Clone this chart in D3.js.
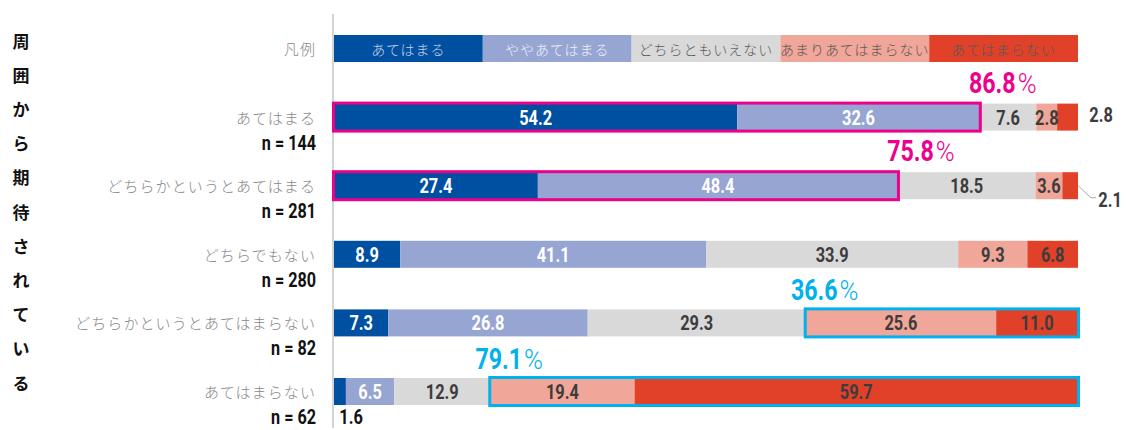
<!DOCTYPE html>
<html><head><meta charset="utf-8">
<script src="https://cdn.jsdelivr.net/npm/d3@7"></script>
<style>body{margin:0;background:#fff;} svg{display:block;}</style>
</head><body>
<svg id="chart" width="1126" height="430"></svg>
<script>
// ---- data ----
const categories = ["あてはまる","どちらかというとあてはまる","どちらでもない","どちらかというとあてはまらない","あてはまらない"];
const sampleSizes = ["n = 144","n = 281","n = 280","n = 82","n = 62"];
const seriesNames = ["あてはまる","ややあてはまる","どちらともいえない","あまりあてはまらない","あてはまらない"];
const applies        = [54.2, 27.4, 8.9, 7.3, 1.6];
const somewhat       = [32.6, 48.4, 41.1, 26.8, 6.5];
const neither        = [7.6, 18.5, 33.9, 29.3, 12.9];
const notReally      = [2.8, 3.6, 9.3, 25.6, 19.4];
const notAtAll       = [2.8, 2.1, 6.8, 11.0, 59.7];
const legendLabel = "凡例";
const axisTitle = "周囲から期待されている";
// highlighted groups
const positiveRows = [0, 1];   // first two series boxed
const negativeRows = [3, 4];   // last two series boxed

const seriesValues = [applies, somewhat, neither, notReally, notAtAll];
const colors = ["#0050a2", "#97a5d3", "#d9d9d9", "#f0a698", "#e04128"];
const legendTextColors = ["#c9d1e4", "#eef0f8", "#5a5a5a", "#5a5a5a", "#5a5a5a"];
const labelColors = ["#ffffff", "#ffffff", "#3c3c3c", "#3c3c3c", "#3c3c3c"];

const svg = d3.select("#chart");
const x = d3.scaleLinear().domain([0, 100]).range([334, 1078]);
const y = d3.scalePoint().domain([legendLabel, ...categories]).range([48.5, 391.5]);
const bh = 27;

const NUMFONT = "Roboto, 'Noto Sans', sans-serif";
const JPFONT = "'Noto Sans CJK JP', 'Noto Sans', sans-serif";

// vertical axis line
svg.append("line").attr("x1", 333).attr("x2", 333).attr("y1", 14).attr("y2", 428)
  .attr("stroke", "#d4d4d4").attr("stroke-width", 2);

// vertical title
const chars = Array.from(axisTitle);
const ty = d3.scalePoint().domain(d3.range(chars.length)).range([40, 382]);
svg.append("g").selectAll("text").data(chars).join("text")
  .attr("x", 21).attr("y", (d, i) => ty(i))
  .attr("text-anchor", "middle").attr("dominant-baseline", "central")
  .attr("font-family", JPFONT).attr("font-weight", 700).attr("font-size", 17)
  .attr("fill", "#111").text(d => d);

// category labels
const rowLabels = [legendLabel, ...categories];
svg.append("g").selectAll("text").data(rowLabels).join("text")
  .attr("x", 316).attr("y", d => y(d))
  .attr("text-anchor", "end").attr("dominant-baseline", "central")
  .attr("font-family", JPFONT).attr("font-weight", 300).attr("font-size", 15)
  .attr("letter-spacing", 1.1)
  .attr("fill", "#888888").text(d => d);

// condensed numeric text helper
function numText(g, txt, cx, cy, size, color, anchor, sx) {
  return g.append("text")
    .attr("transform", `translate(${cx},${cy + size * 0.711 / 2}) scale(${sx},1)`)
    .attr("text-anchor", anchor || "middle")
    .attr("font-family", NUMFONT).attr("font-weight", 700).attr("font-size", size)
    .attr("fill", color).text(txt);
}

// n labels
const nG = svg.append("g");
categories.forEach((c, i) => {
  numText(nG, sampleSizes[i], 316, y(c) + 25, 21, "#111", "end", 0.77);
});

// legend
const lw = (x.range()[1] - x.range()[0]) / seriesNames.length;
const lg = svg.append("g");
lg.selectAll("rect").data(seriesNames).join("rect")
  .attr("x", (d, i) => x(0) + i * lw).attr("y", y(legendLabel) - bh / 2)
  .attr("width", lw).attr("height", bh).attr("fill", (d, i) => colors[i]);
lg.selectAll("text").data(seriesNames).join("text")
  .attr("x", (d, i) => x(0) + i * lw + lw / 2).attr("y", y(legendLabel))
  .attr("text-anchor", "middle").attr("dominant-baseline", "central")
  .attr("font-family", JPFONT).attr("font-weight", 300).attr("font-size", 14)
  .attr("letter-spacing", 1)
  .attr("fill", (d, i) => legendTextColors[i]).text(d => d);

// stacked bars
const rows = categories.map((c, i) => {
  let acc = 0;
  return seriesValues.map((s, j) => {
    const seg = { row: i, series: j, cat: c, v: s[i], x0: acc, x1: acc + s[i] };
    acc += s[i];
    return seg;
  });
});
const segs = rows.flat();
const bars = svg.append("g");
bars.selectAll("rect").data(segs).join("rect")
  .attr("x", d => x(d.x0)).attr("y", d => y(d.cat) - bh / 2)
  .attr("width", d => x(Math.min(d.x1, 100)) - x(d.x0)).attr("height", bh)
  .attr("fill", d => colors[d.series]);

// inside labels (tiny ones are drawn outside)
const outsideKeys = ["0-4", "1-4", "4-0"];
const lblG = svg.append("g");
segs.forEach(d => {
  const key = d.row + "-" + d.series;
  if (outsideKeys.includes(key)) return;
  numText(lblG, d.v.toFixed(1), (x(d.x0) + x(Math.min(d.x1, 100))) / 2, y(d.cat), 21, labelColors[d.series], "middle", 0.78);
});
// outside labels
{
  const s1 = rows[0][4];
  numText(lblG, s1.v.toFixed(1), x(100) + 23, y(s1.cat) - 3, 21, "#3c3c3c", "middle", 0.78);
  const s2 = rows[1][4];
  const cy = y(s2.cat);
  svg.append("path")
    .attr("d", `M${x(100)},${cy} L${x(100) + 13},${cy + 12} L${x(100) + 18},${cy + 12}`)
    .attr("fill", "none").attr("stroke", "#aaa").attr("stroke-width", 1);
  numText(lblG, s2.v.toFixed(1), x(100) + 32, cy + 14, 21, "#3c3c3c", "middle", 0.78);
  const s3 = rows[4][0];
  numText(lblG, s3.v.toFixed(1), x(s3.x0) + 17, y(s3.cat) + 25, 21, "#111", "middle", 0.78);
}

// highlight boxes + annotations
const annG = svg.append("g");
function annotate(cx, baseline, total, color) {
  const g = annG.append("g");
  const t1 = g.append("text")
    .attr("font-family", NUMFONT).attr("font-weight", 700).attr("font-size", 29)
    .attr("fill", color).text(total.toFixed(1));
  const t2 = g.append("text")
    .attr("font-family", NUMFONT).attr("font-weight", 300).attr("font-size", 27)
    .attr("fill", color).text("%");
  const sx = 0.8;
  const w1 = t1.node().getComputedTextLength() * sx;
  const w2 = t2.node().getComputedTextLength() * 0.95;
  const gap = 2;
  const left = cx - (w1 + gap + w2) / 2;
  t1.attr("transform", `translate(${left},${baseline}) scale(${sx},1)`);
  t2.attr("transform", `translate(${left + w1 + gap},${baseline}) scale(0.95,1)`);
}
positiveRows.forEach(r => {
  const a = rows[r][0].x0, b = rows[r][1].x1;
  const top = y(categories[r]) - bh / 2;
  annG.append("rect").attr("x", x(a) - 0.5).attr("y", top - 0.5)
    .attr("width", x(b) - x(a) + 1).attr("height", bh + 1)
    .attr("fill", "none").attr("stroke", "#ec008c").attr("stroke-width", 3);
  annotate(x(b) + 23, top - 11, b - a, "#ec008c");
});
negativeRows.forEach(r => {
  const a = rows[r][3].x0, b = Math.min(rows[r][4].x1, 100);
  const top = y(categories[r]) - bh / 2;
  annG.append("rect").attr("x", x(a) - 0.5).attr("y", top - 0.5)
    .attr("width", x(b) - x(a) + 1).attr("height", bh + 1)
    .attr("fill", "none").attr("stroke", "#00b1ec").attr("stroke-width", 3);
  annotate(x(a) + 19, top - 9, rows[r][3].v + rows[r][4].v, "#00b1ec");
});
</script>
</body></html>
